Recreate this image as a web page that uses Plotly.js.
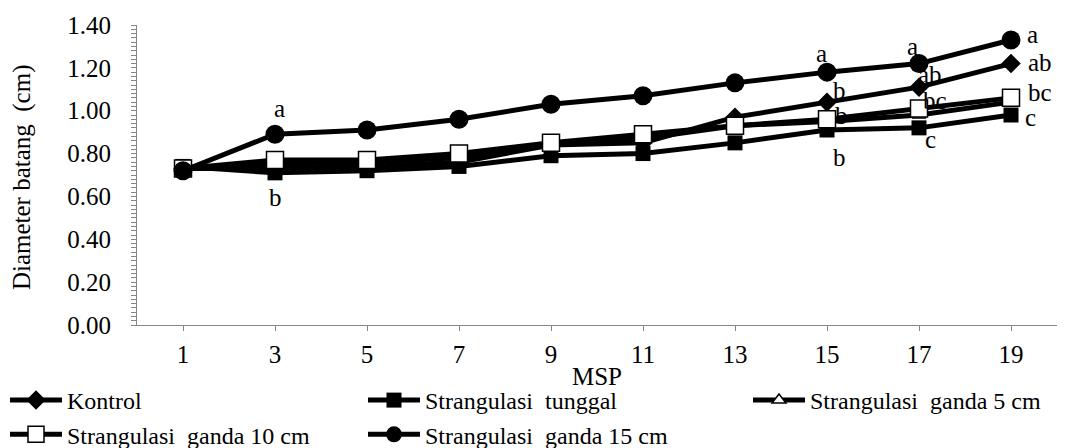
<!DOCTYPE html>
<html>
<head>
<meta charset="utf-8">
<script src="https://cdn.plot.ly/plotly-3.0.1.min.js"></script>
<style>html,body{margin:0;padding:0;background:#fff;}#chart{width:1066px;height:448px;}</style>
</head>
<body>
<div id="chart"></div>
<script>
// ---- data ----
var msp = [1, 3, 5, 7, 9, 11, 13, 15, 17, 19];
var seriesNames = ["Kontrol", "Strangulasi  tunggal", "Strangulasi  ganda 5 cm", "Strangulasi  ganda 10 cm", "Strangulasi  ganda 15 cm"];
var kontrol   = [0.73, 0.73, 0.74, 0.76, 0.84, 0.85, 0.97, 1.04, 1.11, 1.22];
var tunggal   = [0.74, 0.71, 0.72, 0.74, 0.79, 0.80, 0.85, 0.91, 0.92, 0.98];
var ganda5    = [0.73, 0.75, 0.76, 0.78, 0.84, 0.87, 0.93, 0.95, 0.98, 1.04];
var ganda10   = [0.73, 0.77, 0.77, 0.80, 0.85, 0.89, 0.93, 0.96, 1.01, 1.06];
var ganda15   = [0.72, 0.89, 0.91, 0.96, 1.03, 1.07, 1.13, 1.18, 1.22, 1.33];
// significance letters (empty = none)
var lblKontrol = ["", "", "", "", "", "", "", "b", "ab", "ab"];
var lblTunggal = ["", "b", "", "", "", "", "", "b", "c", "c"];
var lblGanda10 = ["", "", "", "", "", "", "", "b", "bc", "bc"];
var lblGanda15 = ["", "a", "", "", "", "", "", "a", "a", "a"];
var yTicks = [0, 0.2, 0.4, 0.6, 0.8, 1.0, 1.2, 1.4];
var yTickText = ["0.00", "0.20", "0.40", "0.60", "0.80", "1.00", "1.20", "1.40"];
var yTitle = "Diameter batang  (cm)";
var xTitle = "MSP";

// ---- styling ----
var FONT = "'Liberation Serif', 'Times New Roman', Times, serif";
var FS = 25;
var ys = [kontrol, tunggal, ganda5, ganda10, ganda15];
var markers = [
  {symbol: "diamond", size: 15, color: "#000", line: {width: 0}},
  {symbol: "square", size: 15, color: "#000", line: {width: 0}},
  {symbol: "triangle-up", size: 12, color: "#fff", line: {color: "#000", width: 1.5}},
  {symbol: "square", size: 17, color: "#fff", line: {color: "#000", width: 1.5}},
  {symbol: "circle", size: 19, color: "#000", line: {width: 0}}
];
var legendIds = ["legend", "legend2", "legend3", "legend", "legend2"];

var traces = ys.map(function (v, i) {
  return {
    x: msp, y: v, name: seriesNames[i], type: "scatter", mode: "lines+markers",
    line: {color: "#000", width: 5}, marker: markers[i],
    legend: legendIds[i], legendgroup: "g" + i, showlegend: true
  };
});

// label offsets (px) per series
var shifts = {
  k:  [null, null, null, null, null, null, null, [12, 12], [11, 13], [29, 1]],
  t:  [null, [0, -25], null, null, null, null, null, [12, -27], [11, -12], [19, -2]],
  g10:[null, null, null, null, null, null, null, [14, 4], [16, 8], [29, 5]],
  g15:[null, [4, 26], null, null, null, null, null, [-6, 19], [-7, 17], [21, 6]]
};
var annotations = [];
function addLabels(lbls, vals, sh) {
  lbls.forEach(function (t, i) {
    if (!t) return;
    annotations.push({x: msp[i], y: vals[i], xref: "x", yref: "y", text: t, showarrow: false,
      xshift: sh[i][0], yshift: sh[i][1], font: {family: FONT, size: FS, color: "#000"}});
  });
}
addLabels(lblKontrol, kontrol, shifts.k);
addLabels(lblTunggal, tunggal, shifts.t);
addLabels(lblGanda10, ganda10, shifts.g10);
addLabels(lblGanda15, ganda15, shifts.g15);
// y axis title (rotated), placed in the left margin
annotations.push({xref: "paper", yref: "paper", x: (22 - 137) / 920, y: 0.493, text: yTitle,
  textangle: -90, showarrow: false, xanchor: "center", yanchor: "middle",
  font: {family: FONT, size: FS, color: "#000"}});

function legendAt(xpx) {
  return {
    orientation: "v", xref: "container", yref: "container", x: xpx / 1066, y: 1 - 378 / 448,
    xanchor: "left", yanchor: "top", itemwidth: 52, tracegroupgap: 0, traceorder: "grouped",
    font: {family: FONT, size: 24, color: "#000"}, bgcolor: "rgba(0,0,0,0)", itemsizing: "trace"
  };
}

var layout = {
  width: 1066, height: 448,
  margin: {l: 137, r: 9, t: 25, b: 123, autoexpand: false},
  paper_bgcolor: "#fff", plot_bgcolor: "#fff",
  font: {family: FONT, size: FS, color: "#000"},
  showlegend: true,
  xaxis: {
    range: [0, 20], tickmode: "array", tickvals: msp, ticktext: msp.map(String),
    showgrid: false, zeroline: false, showline: true, linecolor: "#868686", linewidth: 1,
    ticks: "outside", ticklen: 5, tickcolor: "#868686", ticklabelstandoff: 2,
    tickfont: {family: FONT, size: FS, color: "#000"}, automargin: true,
    title: {text: xTitle, font: {family: FONT, size: FS, color: "#000"}, standoff: 0}
  },
  yaxis: {
    range: [0, 1.4], tickmode: "array", tickvals: yTicks, ticktext: yTickText,
    showgrid: false, zeroline: false, showline: true, linecolor: "#868686", linewidth: 1,
    ticks: "outside", ticklen: 5, tickcolor: "#868686", ticklabelstandoff: 15,
    minor: {dtick: 0.02, ticks: "outside", ticklen: 5, tickcolor: "#868686", showgrid: false},
    tickfont: {family: FONT, size: FS, color: "#000"}, automargin: false
  },
  legend: legendAt(5),
  legend2: legendAt(363),
  legend3: legendAt(748),
  annotations: annotations
};
Plotly.newPlot("chart", traces, layout, {displayModeBar: false, staticPlot: true});
</script>
</body>
</html>
